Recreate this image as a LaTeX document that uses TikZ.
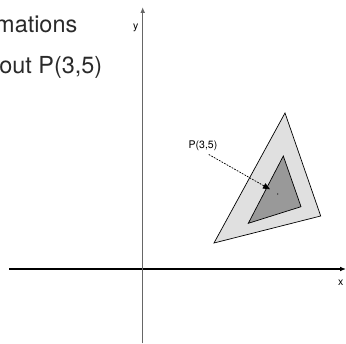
\documentclass[tikz,border=0pt]{standalone}
\usepackage{fontspec}
\setmainfont{TeX Gyre Heros}
\usetikzlibrary{arrows.meta, calc}
\definecolor{outergray}{HTML}{E0E0E0}
\definecolor{innergray}{HTML}{999999}
\definecolor{titlegray}{HTML}{2A2A2A}
\tikzset{
  axis/.style={-{Latex[length=5pt, width=4pt]}, line width=1pt, draw=black},
  yaxis/.style={axis, line width=1.2pt, draw=black!60, fill=black},
  outertri/.style={draw=black, fill=outergray, line width=0.6pt},
  innertri/.style={draw=black, fill=innergray, line width=0.6pt},
  title/.style={font=\fontsize{20pt}{24pt}\selectfont, text=titlegray, inner sep=0pt, anchor=base east},
  axlabel/.style={font=\fontsize{9pt}{10pt}\selectfont, inner sep=0pt},
  pointer/.style={-{Triangle[length=6pt, width=5pt]}, dash pattern=on 1.5pt off 1pt, line width=0.6pt},
}
\begin{document}
\begin{tikzpicture}[x=0.03cm, y=-0.03cm]
  \useasboundingbox (0,0) rectangle (346,343);
  % axes
  \coordinate (xstart) at (9,269);
  \coordinate (xend) at (346,269);
  \coordinate (ystart) at (142.7,343);
  \coordinate (yend) at (142.7,7);
  \draw[axis] (xstart) -- (xend);
  \draw[yaxis] (ystart) -- (yend);
  \node[axlabel] (xlab) at (340.7,283) {x};
  \node[axlabel] (ylab) at (135.7,28) {y};

  % triangles
  \coordinate (oa) at (285,113);
  \coordinate (ob) at (320.7,216);
  \coordinate (oc) at (214,243);
  \coordinate (ia) at (283.3,156);
  \coordinate (ib) at (301,206.7);
  \coordinate (ic) at (248.3,223.3);
  \draw[outertri] (oa) -- (ob) -- (oc) -- cycle;
  \draw[innertri] (ia) -- (ib) -- (ic) -- cycle;

  % point P
  \fill (277.7,194) circle (0.7) coordinate (pt);
  \node[axlabel] (plab) at (203,146) {P(3,5)};
  \coordinate (ptip) at (270,189.3);
  \draw[pointer, shorten <=2mm] (plab.south) -- (ptip);

  % title
  \node[title] (line1) at (77.5,32.5) {mations};
  \node[title] (line2) at (102.5,74) {out P(3,5)};
\end{tikzpicture}
\end{document}
